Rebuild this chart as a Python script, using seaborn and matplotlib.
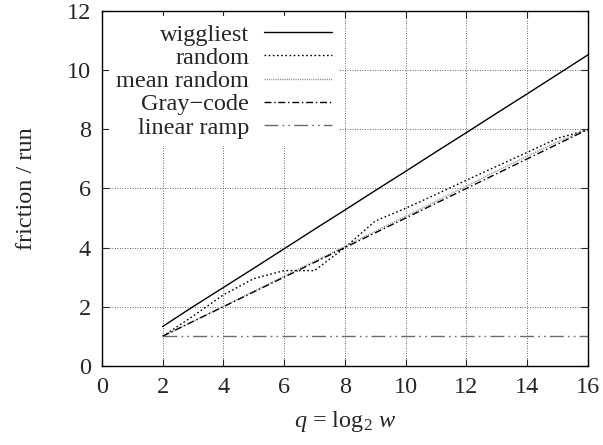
import matplotlib
matplotlib.use("Agg")
import matplotlib.pyplot as plt
import seaborn as sns
import pandas as pd

# data
q = [2, 3, 4, 5, 6, 7, 8, 9, 10, 11, 12, 13, 14, 15, 16]
wiggliest = [1.33, 2.0, 2.65, 3.3, 3.96, 4.62, 5.27, 5.93, 6.58, 7.24, 7.89, 8.55, 9.2, 9.86, 10.52]
random_seq = [1.0, 1.68, 2.4, 2.95, 3.22, 3.22, 4.0, 4.9, 5.33, 5.8, 6.28, 6.75, 7.22, 7.7, 7.98]
mean_random = [1.0, 1.5, 2.01, 2.52, 3.03, 3.54, 4.04, 4.55, 5.06, 5.57, 6.08, 6.59, 7.09, 7.58, 8.0]
gray_code = [1.0, 1.5, 2.0, 2.5, 3.0, 3.5, 4.0, 4.5, 5.0, 5.5, 6.0, 6.5, 7.0, 7.5, 8.0]
linear_ramp = [1.0] * 15

xticks = list(range(0, 17, 2))
yticks = list(range(0, 13, 2))

sns.set_style("ticks")
plt.rcParams["font.family"] = ["Liberation Serif", "DejaVu Serif"]
plt.rcParams["font.size"] = 17.5
plt.rcParams["mathtext.fontset"] = "custom"
plt.rcParams["mathtext.rm"] = "Liberation Serif"
plt.rcParams["mathtext.it"] = "Liberation Serif:italic"

df = pd.DataFrame({"q": q, "wiggliest": wiggliest, "random": random_seq,
                   "mean random": mean_random, "Gray\u2212code": gray_code,
                   "linear ramp": linear_ramp})

styles = {
    "wiggliest": dict(color="black", linestyle="-"),
    "random": dict(color="black", linestyle=(0, (1.2, 1.8))),
    "mean random": dict(color="#8a8a8a", linestyle=(0, (0.8, 0.8))),
    "Gray\u2212code": dict(color="black", linestyle=(0, (5, 2, 1, 2))),
    "linear ramp": dict(color="#6a6a6a", linestyle=(0, (10, 3, 1.2, 3, 1.2, 3))),
}

fig = plt.figure(figsize=(6.03, 4.45), dpi=100)
ax = fig.add_axes([0.169, 0.178, 0.806, 0.797])

for name, st in styles.items():
    sns.lineplot(data=df, x="q", y=name, ax=ax, label=name, lw=1.0, **st)

ax.set_xlim(0, 16)
ax.set_ylim(0, 12)
ax.set_xticks(xticks)
ax.set_yticks(yticks)
ax.grid(True, color="#333333", linestyle=(0, (1, 2)), linewidth=0.6)
ax.tick_params(direction="in", top=True, right=True, length=5, width=0.8, pad=8)
for s in ax.spines.values():
    s.set_linewidth(1.0)
    s.set_color("black")

ax.set_xlabel("$q$ = log$_2$ $w$", labelpad=8)
ax.set_ylabel("friction / run", labelpad=21)

leg = ax.legend(loc="upper left", bbox_to_anchor=(0.015, 0.985), markerfirst=False,
                frameon=True, fancybox=False, framealpha=1, edgecolor="none",
                facecolor="white", handlelength=2.8, handletextpad=0.6,
                labelspacing=0.05, borderpad=0.3, borderaxespad=0.0)

fig.savefig("out.png", dpi=100)
